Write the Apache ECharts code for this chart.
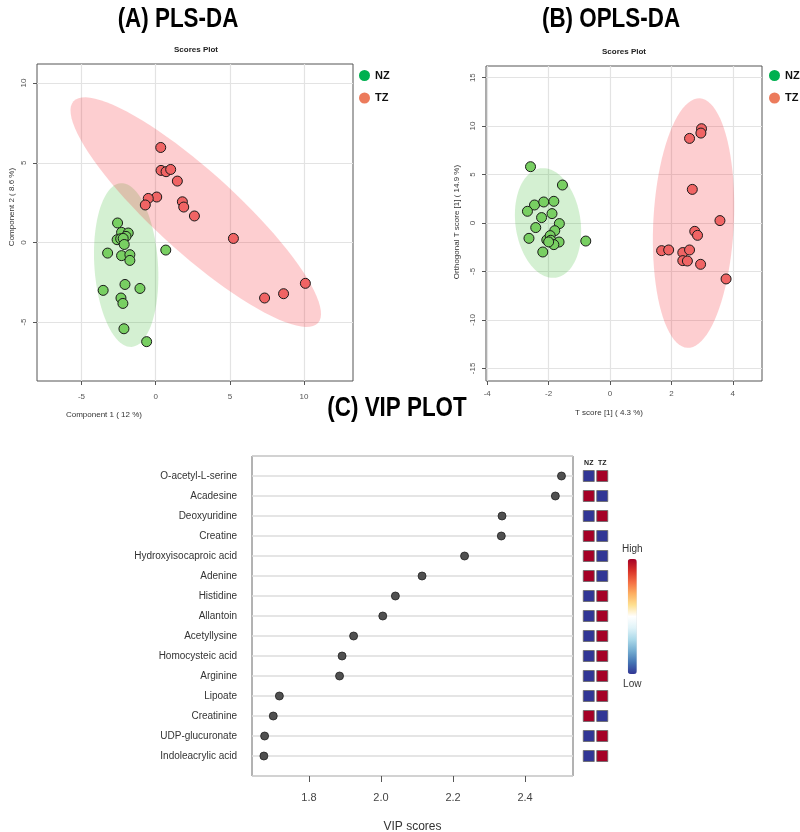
<!DOCTYPE html>
<html>
<head>
<meta charset="utf-8">
<title>PLS-DA / OPLS-DA / VIP</title>
<script src="https://cdn.jsdelivr.net/npm/echarts@6.0.0/dist/echarts.min.js"></script>
<style>
  html, body { margin: 0; padding: 0; background: #fff; }
  #main { width: 800px; height: 832px; }
</style>
</head>
<body>
<div id="main"></div>
<script>
// ---- (A) PLS-DA scores: [component 1, component 2]
const plsNZ = [[-2.57, 1.22], [-2.30, 0.63], [-1.85, 0.59], [-2.00, 0.38], [-2.60, 0.17],
  [-2.36, 0.23], [-2.19, 0.25], [-2.12, -0.13], [-3.24, -0.67], [-2.30, -0.83],
  [-1.74, -0.77], [-1.74, -1.13], [0.68, -0.48], [-2.07, -2.64], [-1.06, -2.89],
  [-3.54, -3.01], [-2.34, -3.49], [-2.21, -3.83], [-2.14, -5.42], [-0.61, -6.23]];
const plsTZ = [[0.34, 5.96], [0.36, 4.52], [0.70, 4.44], [1.01, 4.58], [1.46, 3.85],
  [0.07, 2.85], [-0.50, 2.76], [-0.70, 2.35], [1.80, 2.55], [1.89, 2.22],
  [2.61, 1.66], [5.24, 0.25], [10.09, -2.57], [8.62, -3.22], [7.34, -3.49]];

// ---- (B) OPLS-DA scores: [T score, orthogonal T score]
const oplsNZ = [[-2.59, 5.81], [-1.55, 3.92], [-2.46, 1.86], [-2.16, 2.17], [-1.83, 2.24],
  [-2.69, 1.21], [-2.23, 0.56], [-1.89, 0.97], [-1.65, -0.06], [-2.42, -0.47],
  [-1.80, -0.79], [-2.64, -1.58], [-2.06, -1.75], [-1.95, -1.30], [-1.93, -1.78],
  [-1.66, -1.96], [-1.83, -2.23], [-2.19, -2.99], [-0.79, -1.86], [-2.00, -1.95]];
const oplsTZ = [[2.98, 9.73], [2.96, 9.28], [2.59, 8.73], [2.68, 3.47], [3.58, 0.25],
  [2.76, -0.86], [2.85, -1.27], [1.68, -2.85], [1.91, -2.78], [2.37, -3.05],
  [2.59, -2.78], [2.37, -3.88], [2.52, -3.92], [2.95, -4.26], [3.78, -5.77]];

// confidence ellipses: [cx, cy, axis1 x, axis1 y, axis2 x, axis2 y] in data units
const ellPlsNZ = [-1.99, -1.42, -0.36, 5.14, 2.14, 0.13];
const ellPlsTZ = [2.70, 1.90, 8.24, -6.96, 1.84, 1.88];
const ellOplsNZ = [-2.02, 0.0, -0.25, 5.64, 1.05, 0.47];
const ellOplsTZ = [2.72, -0.01, 0.20, 12.87, 1.31, -0.20];

// ---- (C) VIP plot
const vipNames = ['O-acetyl-L-serine', 'Acadesine', 'Deoxyuridine', 'Creatine',
  'Hydroxyisocaproic acid', 'Adenine', 'Histidine', 'Allantoin', 'Acetyllysine',
  'Homocysteic acid', 'Arginine', 'Lipoate', 'Creatinine', 'UDP-glucuronate',
  'Indoleacrylic acid'];
const vipScores = [2.501, 2.484, 2.336, 2.334, 2.232, 2.114, 2.040, 2.005, 1.924,
  1.892, 1.885, 1.718, 1.701, 1.677, 1.675];
const groups = ['NZ', 'TZ'];
// relative level per metabolite, 1 = high, 0 = low
const levelNZ = [0, 1, 0, 1, 1, 1, 0, 0, 0, 0, 0, 0, 1, 0, 0];
const levelTZ = [1, 0, 1, 0, 0, 0, 1, 1, 1, 1, 1, 1, 0, 1, 1];

const tickA_x = [-5, 0, 5, 10];
const tickA_y = [-5, 0, 5, 10];
const tickB_x = [-4, -2, 0, 2, 4];
const tickB_y = [-15, -10, -5, 0, 5, 10, 15];
const tickC_x = [1.8, 2.0, 2.2, 2.4];

const FONT = "'Liberation Sans', Arial, sans-serif";

const heatData = [];
vipNames.forEach((n, i) => {
  heatData.push([0, i + 1, levelNZ[i]]);
  heatData.push([1, i + 1, levelTZ[i]]);
});

function ellipseSeries(e, color, xi, yi) {
  return {
    type: 'custom',
    xAxisIndex: xi,
    yAxisIndex: yi,
    silent: true,
    z: 1,
    data: [[e[0], e[1]]],
    renderItem: function (params, api) {
      const pts = [];
      for (let k = 0; k <= 90; k++) {
        const t = (k / 90) * Math.PI * 2;
        pts.push(api.coord([
          e[0] + e[2] * Math.cos(t) + e[4] * Math.sin(t),
          e[1] + e[3] * Math.cos(t) + e[5] * Math.sin(t)
        ]));
      }
      return { type: 'polygon', shape: { points: pts }, style: { fill: color } };
    }
  };
}

function scoreSeries(name, data, fill, xi, yi) {
  return {
    name: name,
    type: 'scatter',
    xAxisIndex: xi,
    yAxisIndex: yi,
    z: 3,
    symbolSize: 10,
    data: data,
    itemStyle: { color: fill, borderColor: '#1a1a1a', borderWidth: 1, opacity: 1 }
  };
}

function scoreAxis(gi, min, max, ticks, rotate, margin) {
  return {
    type: 'value',
    gridIndex: gi,
    min: min,
    max: max,
    axisLine: { show: false, onZero: false },
    axisTick: { show: true, customValues: ticks, length: 4, lineStyle: { color: '#555' } },
    axisLabel: { customValues: ticks, rotate: rotate, margin: margin, fontSize: 8, color: '#555', fontFamily: FONT },
    splitLine: { show: true, lineStyle: { color: '#e3e3e3', width: 1.2 } }
  };
}

function bigTitle(text, x, y) {
  return { type: 'text', x: x, y: y, scaleX: 0.8, style: { text: text, fill: '#000',
    font: 'bold 28px ' + FONT, align: 'center', verticalAlign: 'middle' } };
}

function axisName(text, x, y, rot) {
  return { type: 'text', x: x, y: y, rotation: rot, style: { text: text, fill: '#333',
    font: '8px ' + FONT, align: 'center', verticalAlign: 'middle' } };
}

const chart = echarts.init(document.getElementById('main'));
chart.setOption({
  backgroundColor: '#fff',
  animation: false,
  title: [
    { text: 'Scores Plot', left: 196, top: 46, textAlign: 'center', padding: 0,
      textStyle: { fontSize: 8, fontWeight: 'bold', color: '#222', fontFamily: FONT } },
    { text: 'Scores Plot', left: 624, top: 48, textAlign: 'center', padding: 0,
      textStyle: { fontSize: 8, fontWeight: 'bold', color: '#222', fontFamily: FONT } }
  ],
  legend: [
    { left: 359, top: 70, orient: 'vertical', padding: 0, itemGap: 11.5, itemWidth: 11, itemHeight: 11,
      icon: 'circle', selectedMode: false,
      textStyle: { fontSize: 11, fontWeight: 'bold', color: '#111', fontFamily: FONT },
      data: [{ name: 'NZ', itemStyle: { color: '#00b050', borderWidth: 0 } },
             { name: 'TZ', itemStyle: { color: '#ec7b5c', borderWidth: 0 } }] },
    { left: 769, top: 70, orient: 'vertical', padding: 0, itemGap: 11.5, itemWidth: 11, itemHeight: 11,
      icon: 'circle', selectedMode: false,
      textStyle: { fontSize: 11, fontWeight: 'bold', color: '#111', fontFamily: FONT },
      data: [{ name: 'NZ', itemStyle: { color: '#00b050', borderWidth: 0 } },
             { name: 'TZ', itemStyle: { color: '#ec7b5c', borderWidth: 0 } }] }
  ],
  grid: [
    { left: 37, top: 64, width: 316, height: 317, outerBoundsMode: 'none',
      show: true, borderColor: '#555', borderWidth: 1 },
    { left: 486, top: 66, width: 276, height: 315, outerBoundsMode: 'none',
      show: true, borderColor: '#555', borderWidth: 1 },
    { left: 252, top: 456, width: 321, height: 320, outerBoundsMode: 'none',
      show: true, borderColor: '#666', borderWidth: 1 },
    { left: 582, top: 456, width: 27, height: 320, outerBoundsMode: 'none' }
  ],
  xAxis: [
    scoreAxis(0, -8, 13.3, tickA_x, 0, 12),
    scoreAxis(1, -4.04, 4.95, tickB_x, 0, 9),
    {
      type: 'value', gridIndex: 2, min: 1.642, max: 2.533,
      name: 'VIP scores', nameLocation: 'middle', nameGap: 45,
      nameTextStyle: { fontSize: 12, color: '#333', fontFamily: FONT },
      axisLine: { show: false, onZero: false },
      axisTick: { show: true, customValues: tickC_x, length: 6, lineStyle: { color: '#555' } },
      axisLabel: { customValues: tickC_x, margin: 16, fontSize: 11, color: '#444', fontFamily: FONT,
        formatter: (v) => v.toFixed(1) },
      splitLine: { show: false }
    },
    {
      type: 'category', gridIndex: 3, data: groups, position: 'top',
      axisLine: { show: false, onZero: false }, axisTick: { show: false },
      axisLabel: { margin: -11, fontSize: 7, fontWeight: 'bold', color: '#222', fontFamily: FONT }
    }
  ],
  yAxis: [
    scoreAxis(0, -8.7, 11.2, tickA_y, 90, 9),
    scoreAxis(1, -16.3, 16.2, tickB_y, 90, 9),
    {
      type: 'value', gridIndex: 2, min: 0, max: 16, interval: 1, inverse: true,
      axisLine: { show: false, onZero: false }, axisTick: { show: false },
      axisLabel: { margin: 15, fontSize: 10, color: '#333', fontFamily: FONT,
        formatter: (v) => vipNames[v - 1] || '' },
      splitLine: { show: true, lineStyle: { color: '#dcdcdc', width: 1.5 } }
    },
    {
      type: 'value', gridIndex: 3, min: 0, max: 16, inverse: true, show: false
    }
  ],
  visualMap: {
    type: 'continuous',
    seriesIndex: 9,
    dimension: 2,
    min: 0,
    max: 1,
    left: 607,
    top: 529,
    itemWidth: 9,
    itemHeight: 115,
    calculable: false,
    text: ['High', 'Low'],
    textGap: 5,
    textStyle: { fontSize: 10, color: '#333', fontFamily: FONT },
    inRange: {
      color: ['#313695', '#4575b4', '#74add1', '#abd9e9', '#e0f3f8', '#ffffff',
        '#fee090', '#fdae61', '#f46d43', '#d73027', '#a50026']
    }
  },
  graphic: [
    bigTitle('(A) PLS-DA', 178, 19),
    bigTitle('(B) OPLS-DA', 611, 19),
    bigTitle('(C) VIP PLOT', 397, 408),
    axisName('Component 1 ( 12 %)', 104, 415, 0),
    axisName('Component 2 ( 8.6 %)', 12, 207, Math.PI / 2),
    axisName('T score [1] ( 4.3 %)', 609, 413, 0),
    axisName('Orthogonal T score [1] ( 14.9 %)', 457, 222, Math.PI / 2)
  ],
  series: [
    ellipseSeries(ellPlsNZ, 'rgba(40,180,30,0.2)', 0, 0),
    ellipseSeries(ellPlsTZ, 'rgba(245,30,40,0.22)', 0, 0),
    scoreSeries('NZ', plsNZ, '#78cf62', 0, 0),
    scoreSeries('TZ', plsTZ, '#f06464', 0, 0),
    ellipseSeries(ellOplsNZ, 'rgba(40,180,30,0.2)', 1, 1),
    ellipseSeries(ellOplsTZ, 'rgba(245,30,40,0.22)', 1, 1),
    scoreSeries('NZ', oplsNZ, '#78cf62', 1, 1),
    scoreSeries('TZ', oplsTZ, '#f06464', 1, 1),
    {
      name: 'VIP',
      type: 'scatter',
      xAxisIndex: 2,
      yAxisIndex: 2,
      z: 3,
      symbolSize: 8,
      data: vipScores.map((v, i) => [v, i + 1]),
      itemStyle: { color: '#505050', borderColor: '#222', borderWidth: 0.8, opacity: 1 }
    },
    {
      name: 'Level',
      type: 'scatter',
      xAxisIndex: 3,
      yAxisIndex: 3,
      symbol: 'rect',
      symbolSize: 11,
      data: heatData,
      itemStyle: { borderColor: '#666', borderWidth: 0.8, opacity: 1 }
    }
  ]
});

window.addEventListener('resize', () => {
  chart.resize();
});
</script>
</body>
</html>
